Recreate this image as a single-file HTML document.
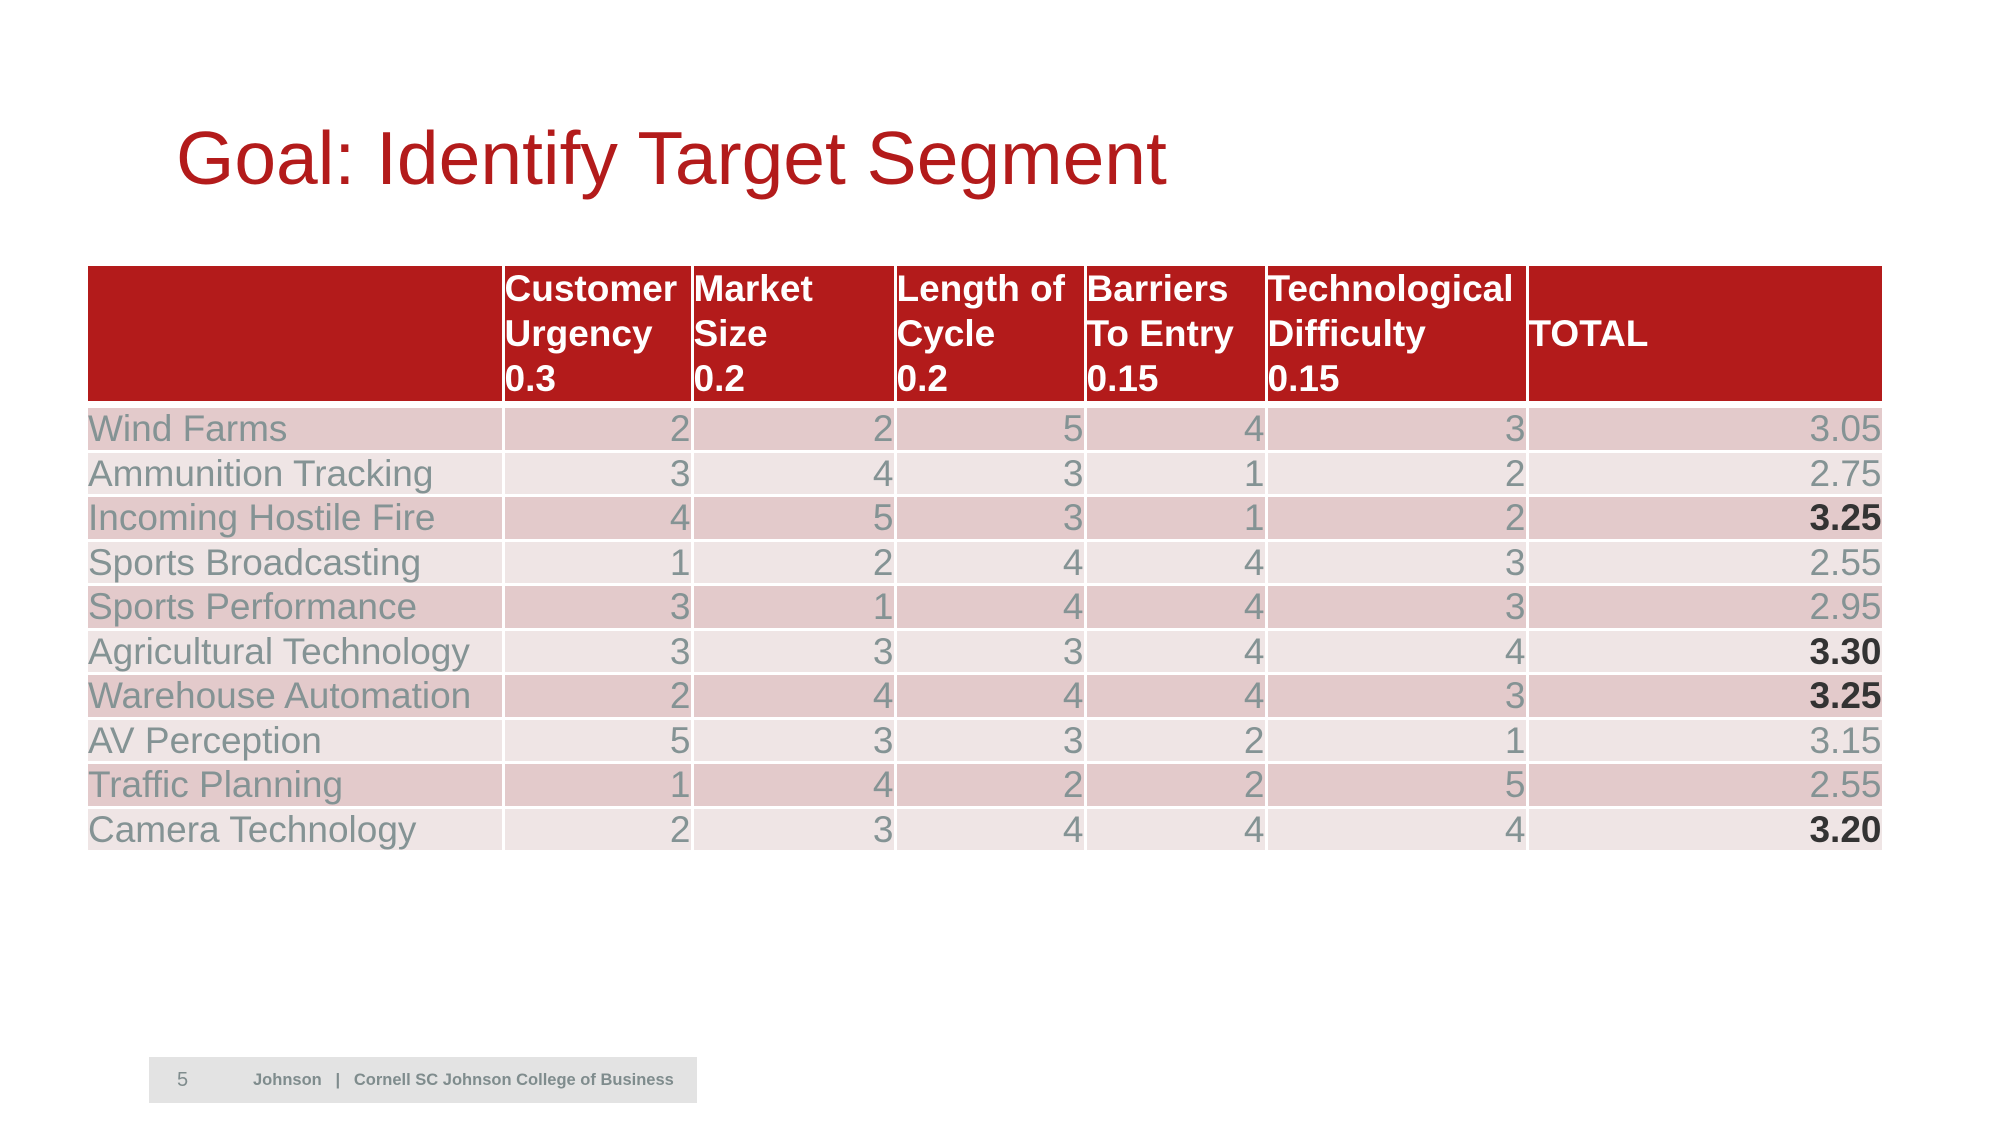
<!DOCTYPE html>
<html><head><meta charset="utf-8"><style>
body{margin:0;width:2000px;height:1125px;background:#fff;position:relative;overflow:hidden;font-family:"Liberation Sans",Arial,sans-serif}
.t{position:absolute;left:176px;top:115px;font-size:75px;color:#b31b1b;white-space:nowrap}
table{position:absolute;left:88px;top:266px;border-collapse:collapse;table-layout:fixed}
td{padding:0;border:3px solid #fff;border-top:0;border-bottom:0;white-space:nowrap}
tr.h td{background:#b31b1b;color:#fff;font-weight:bold;font-size:37px;line-height:45px;height:110px;vertical-align:bottom;padding-bottom:0}
tr.h td.m{vertical-align:middle}
tr.gap td{height:7px;background:#fff;border:0}
tr.r td{height:41.5px;font-size:37px;line-height:41px;color:#849394;text-align:right;border-bottom:3px solid #fff}
tr.r td:first-child{text-align:left}
tr.r:nth-child(odd) td{background:#e3cacb}
tr.r:nth-child(even) td{background:#efe5e5}
td:first-child{border-left:0}
b{color:#333}
.f{position:absolute;left:149px;top:1057px;width:548px;height:46px;background:#e3e3e3;color:#7f8c8d;font-size:16.5px;font-weight:bold;line-height:46px}
</style></head><body>
<div class="t">Goal: Identify Target Segment</div>
<table>
<colgroup><col style="width:415px"><col style="width:189px"><col style="width:203px"><col style="width:190px"><col style="width:181px"><col style="width:261px"><col style="width:356px"></colgroup>
<tr class="h"><td></td><td>Customer<br>Urgency<br>0.3</td><td>Market<br>Size<br>0.2</td><td>Length of<br>Cycle<br>0.2</td><td>Barriers<br>To Entry<br>0.15</td><td>Technological<br>Difficulty<br>0.15</td><td class="m">TOTAL</td></tr>
<tr class="gap"><td colspan="7"></td></tr>
<tbody>
<tr class="r"><td>Wind Farms</td><td>2</td><td>2</td><td>5</td><td>4</td><td>3</td><td>3.05</td></tr>
<tr class="r"><td>Ammunition Tracking</td><td>3</td><td>4</td><td>3</td><td>1</td><td>2</td><td>2.75</td></tr>
<tr class="r"><td>Incoming Hostile Fire</td><td>4</td><td>5</td><td>3</td><td>1</td><td>2</td><td><b>3.25</b></td></tr>
<tr class="r"><td>Sports Broadcasting</td><td>1</td><td>2</td><td>4</td><td>4</td><td>3</td><td>2.55</td></tr>
<tr class="r"><td>Sports Performance</td><td>3</td><td>1</td><td>4</td><td>4</td><td>3</td><td>2.95</td></tr>
<tr class="r"><td>Agricultural Technology</td><td>3</td><td>3</td><td>3</td><td>4</td><td>4</td><td><b>3.30</b></td></tr>
<tr class="r"><td>Warehouse Automation</td><td>2</td><td>4</td><td>4</td><td>4</td><td>3</td><td><b>3.25</b></td></tr>
<tr class="r"><td>AV Perception</td><td>5</td><td>3</td><td>3</td><td>2</td><td>1</td><td>3.15</td></tr>
<tr class="r"><td>Traffic Planning</td><td>1</td><td>4</td><td>2</td><td>2</td><td>5</td><td>2.55</td></tr>
<tr class="r"><td>Camera Technology</td><td>2</td><td>3</td><td>4</td><td>4</td><td>4</td><td><b>3.20</b></td></tr>
</tbody></table>
<div class="f"><span style="position:absolute;left:28px;font-size:20px;font-weight:normal">5</span><span style="position:absolute;left:104px">Johnson &nbsp;&nbsp;| &nbsp;&nbsp;Cornell SC Johnson College of Business</span></div>
</body></html>
